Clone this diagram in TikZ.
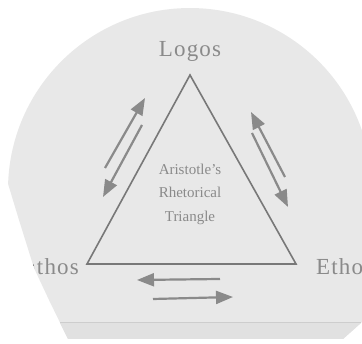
\documentclass[tikz,border=0pt]{standalone}
\usepackage{fontspec}
\setmainfont{Liberation Serif}
\newfontfamily\cornerfont{Liberation Serif}[LetterSpace=5]
\usetikzlibrary{arrows.meta, calc}
\definecolor{paperGray}{HTML}{E8E8E8}
\definecolor{bandGray}{HTML}{E1E1E1}
\definecolor{edgeGray}{HTML}{CDCDCD}
\definecolor{inkGray}{HTML}{8A8A8A}
\definecolor{lineGray}{HTML}{787878}
\newcommand{\paperEdge}{(343,5) -- (68,5) -- (49,44) -- (34,76) -- (19,124) -- (8.1,160)
  arc[start angle=178.1, end angle=19.1, radius=182] -- (362,22) -- cycle}

\begin{document}
\begin{tikzpicture}[x=1pt, y=1pt,
  corner/.style={font=\cornerfont\fontsize{23}{26}\selectfont, text=inkGray, inner sep=0pt},
  centre/.style={font=\fontsize{15}{23.5}\selectfont, text=inkGray, align=center, inner sep=0pt},
  twoway/.style={draw=inkGray, line width=2.2pt, -{Triangle[length=17pt, width=13pt]}},
]
  \useasboundingbox (0,0) rectangle (362,344);
  \clip (0,0) rectangle (362,344);
  \fill[white] (0,0) rectangle (362,344);
  \fill[paperGray] \paperEdge;
  \fill[bandGray] (68,5) -- (60,21) -- (361,21) -- (343,5) -- cycle;
  \draw[edgeGray, line width=1pt] (60,21) -- (361,21);

  \coordinate (apex) at (190,269);
  \coordinate (baseL) at (87,80);
  \coordinate (baseR) at (296,80);
  \draw[lineGray, line width=1.6pt] (apex) -- (baseL) -- (baseR) -- cycle;

  \begin{scope}
    \clip \paperEdge;
    \node[corner, anchor=base] (logos) at (190,287) {Logos};
    \node[corner, anchor=base east] (pathos) at (79,69) {Pathos};
    \node[corner, anchor=base west] (ethos) at (316,69) {Ethos};
  \end{scope}
  \node[centre] (title) at (190,150) {Aristotle's\\Rhetorical\\Triangle};

  \coordinate (leftUpA) at (105,176);
  \coordinate (leftUpB) at (145,246);
  \coordinate (leftDownA) at (142,219);
  \coordinate (leftDownB) at (103,147);
  \coordinate (rightUpA) at (285,167);
  \coordinate (rightUpB) at (251,232);
  \coordinate (rightDownA) at (252,211);
  \coordinate (rightDownB) at (288,137);
  \coordinate (baseBackA) at (220,65);
  \coordinate (baseBackB) at (137,64);
  \coordinate (baseOnA) at (153,45);
  \coordinate (baseOnB) at (233,47);

  \draw[twoway] (leftUpA) -- (leftUpB);
  \draw[twoway] (leftDownA) -- (leftDownB);
  \draw[twoway] (rightUpA) -- (rightUpB);
  \draw[twoway] (rightDownA) -- (rightDownB);
  \draw[twoway] (baseBackA) -- (baseBackB);
  \draw[twoway] (baseOnA) -- (baseOnB);
\end{tikzpicture}
\end{document}
